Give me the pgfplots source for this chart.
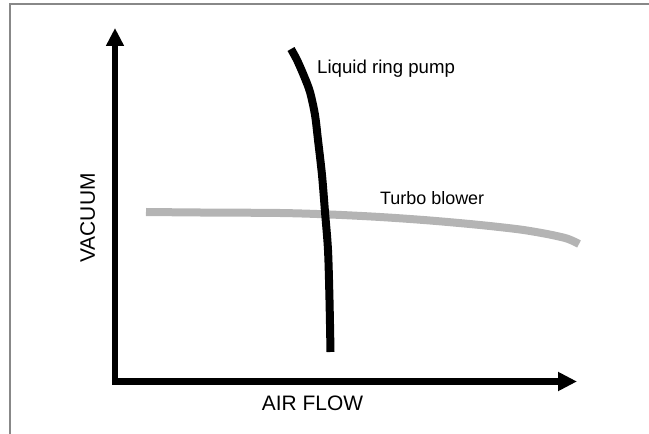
\documentclass[border=0pt]{standalone}
\usepackage{pgfplots}
\pgfplotsset{compat=1.18}
\usepackage{fontspec}
\setmainfont{Liberation Sans}
\usetikzlibrary{arrows.meta}
\definecolor{turbogray}{RGB}{180,180,180}
\definecolor{framegray}{RGB}{136,136,136}
\begin{document}
\begin{tikzpicture}
\begin{axis}[
  scale only axis,
  width=462bp, height=353.5bp,
  xmin=115, xmax=577, ymin=52.5, ymax=406,
  axis lines=left,
  xtick=\empty, ytick=\empty,
  axis line style={line width=6.5bp, line cap=rect, black},
  x axis line style={-{Triangle[width=18bp,length=19bp]}},
  y axis line style={-{Triangle[width=17bp,length=18bp]}},
  clip=false,
]
% frame
\draw[framegray, line width=1.5bp] (axis cs:10,0) -- (axis cs:10,430) -- (axis cs:649,430);
% turbo blower
\addplot[turbogray, line width=8bp, smooth, tension=0.5] coordinates {
(146,222) (200,221.5) (280,221) (330,219.5) (380,217) (430,213.5) (480,209) (520,204.5) (547,200) (565,196) (573,193) (579,190)};
% liquid ring pump
\addplot[black, line width=8bp, smooth, tension=0.5] coordinates {
(291,385) (297,374) (304,358) (310,342) (315,319) (318,294) (322,259) (325,222) (328,184) (329.5,134) (330.5,82)};
\node[anchor=base west, inner sep=0pt, font=\fontsize{18.7}{22}\selectfont] at (axis cs:317,360.7) {Liquid ring pump};
\node[anchor=base west, inner sep=0pt, font=\fontsize{18}{22}\selectfont] at (axis cs:380,229) {Turbo blower};
\node[anchor=base, inner sep=0pt, rotate=90, font=\fontsize{21}{25}\selectfont] at (axis cs:95,216) {VACUUM};
\node[anchor=base, inner sep=0pt, font=\fontsize{21}{25}\selectfont] at (axis cs:312.5,24) {AIR FLOW};
\path (axis cs:0,0) coordinate (ll) (axis cs:649,434) coordinate (ur);
\end{axis}
\pgfresetboundingbox
\path[use as bounding box] (ll) rectangle (ur);
\end{tikzpicture}
\end{document}
